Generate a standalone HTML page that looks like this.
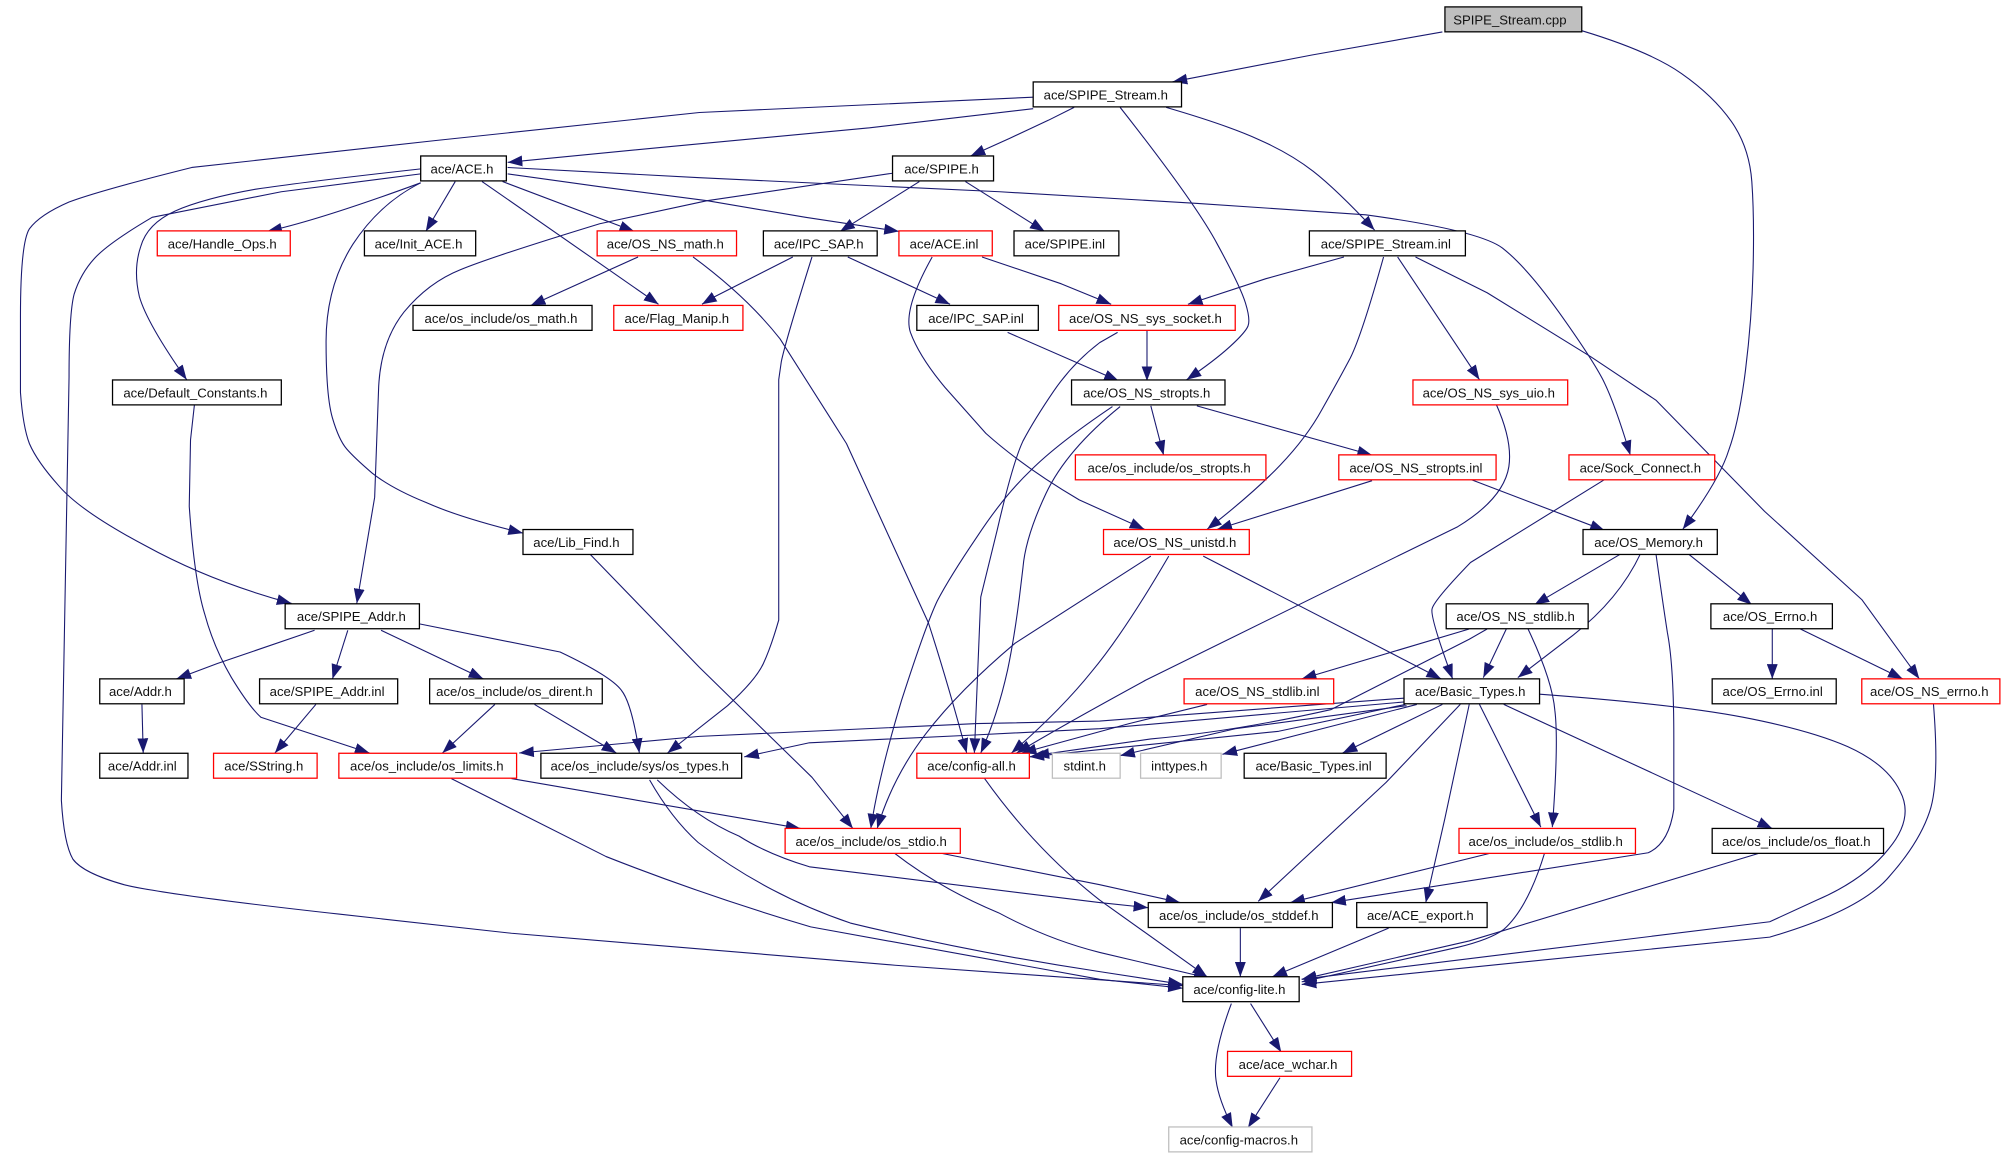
<!DOCTYPE html>
<html><head><meta charset="utf-8"><style>
html,body{margin:0;padding:0;background:#fff}
svg{display:block}
text{font-family:"Liberation Sans",sans-serif;font-size:10.3px;text-anchor:middle;fill:#111;transform:translate(-1.2px,0)}
.e path{fill:none;stroke:#191970;stroke-width:.85;stroke-linejoin:round;marker-end:url(#a)}
.n rect{fill:#fff;stroke:#000;stroke-width:1}
.n rect.r{stroke:#f00}
.n rect.g{stroke:#bfbfbf}
.n rect.c{fill:#bfbfbf}
</style></head><body>
<svg xmlns="http://www.w3.org/2000/svg" width="2005" height="1157" viewBox="0 0 1568 905" preserveAspectRatio="none">
<defs><marker id="a" markerUnits="userSpaceOnUse" markerWidth="11.5" markerHeight="8.5" refX="11.5" refY="4.25" orient="auto"><path d="M0,0L11.5,4.25L0,8.5z" fill="#191970"/></marker></defs>
<g class="e">
<path d="M1128,25L1026,43L917,64"/>
<path d="M1237,24Q1290,40 1315,57.5Q1340,75 1354,95Q1368,115 1370,142Q1372,170 1371,210Q1370,250 1365,290Q1360,330 1352,352Q1345,375 1316,414"/>
<path d="M808,76L547,88L340,110L150,131Q78,149 54,158Q31,168 23,179Q16,190 16,248L16,307Q18,334 23,347Q29,361 46,380Q63,400 114,427Q165,455 228,472"/>
<path d="M808,85L680,100L520,115L397,127"/>
<path d="M840,84L820,94L790,108L759,122"/>
<path d="M876,84Q935,159 952,191Q970,224 974,237Q978,250 976,255Q974,260 962,271Q950,282 928,297"/>
<path d="M912,84Q960,98 984,109Q1009,120 1027,134Q1045,148 1075,180"/>
<path d="M330,132Q240,142 200,148Q160,155 137,165Q115,175 110,193Q104,211 109,232Q115,253 146,297"/>
<path d="M329,136L220,150L119,170Q85,190 74,202Q63,214 58,230Q54,245 54,295L48,626Q50,660 57,672Q65,683 97,692Q130,700 265,715L400,730L700,755L925,771"/>
<path d="M329,143Q250,172 209,181"/>
<path d="M356,142L333,181"/>
<path d="M329,143Q297,159 276,191Q255,224 255,267Q255,310 260,327Q265,344 271,351Q277,358 291,370Q306,382 333,393Q360,405 409,417"/>
<path d="M393,142L496,181"/>
<path d="M377,142L515,238"/>
<path d="M397,136L469,146L553,157L630,170L703,181"/>
<path d="M397,131L547,139L782,150L935,159L1068,168Q1156,180 1175,194Q1194,209 1219,244Q1244,279 1253,296Q1262,313 1275,356"/>
<path d="M698,135.500L553,157L469,175Q384,201 360,211Q335,221 316,244Q297,268 296,306L293,389L279,472"/>
<path d="M719,142L657,181"/>
<path d="M755,142L817,181"/>
<path d="M499,201L415,239"/>
<path d="M542,201Q584,232 610,265L650,328L662,347L726,487Q740,530 756,589"/>
<path d="M1051,201L990,218L929,238"/>
<path d="M1082,201Q1065,262 1056,280Q1047,297 1034,320Q1022,342 1001,364Q980,386 944,414"/>
<path d="M1093,201L1157,297"/>
<path d="M1107,201L1163,229L1244,279L1295,313L1380,400L1456,469L1501,531"/>
<path d="M768,201L830,222L869,238"/>
<path d="M729,201Q706,242 712,260Q719,279 739,303L771,339Q800,365 844,391L895,414"/>
<path d="M620,201L559,232L549,238"/>
<path d="M663,201L743,238"/>
<path d="M635,201Q614,268 611,283L609,297L609,485Q603,506 597,519Q591,532 569,552L522,589"/>
<path d="M788,260L875,298"/>
<path d="M897,258L897,298"/>
<path d="M874,260L860,268Q839,284 824,306Q809,328 800,345Q792,362 780,414L767,467L762,589"/>
<path d="M900,317.500L910,356"/>
<path d="M936,317.500L1073,356"/>
<path d="M876,318Q834,352 818,386Q802,420 800,444L797,469Q793,500 788,524Q780,560 767,589"/>
<path d="M870,318Q827,347 806,368Q785,388 764,420Q743,451 733,470Q724,489 705,548Q687,608 681,648"/>
<path d="M461,433L547,522L635,608L667,648"/>
<path d="M1073,376L952,414"/>
<path d="M1150,375L1255,415"/>
<path d="M941,435L1127,531"/>
<path d="M914,435Q879,495 854,525Q830,555 791,589"/>
<path d="M900,435L794,503Q750,540 724,574Q698,608 686,648"/>
<path d="M1170,316Q1183,345 1180,365Q1176,390 1140,412L1095,434L896,532Q830,568 795,589"/>
<path d="M944,551L883,566L799,589"/>
<path d="M1163,492L1149,500L1041,555Q966,572 900,578L809,591"/>
<path d="M1178,492L1160,530"/>
<path d="M1149,492L1018,531"/>
<path d="M1195,492Q1214,532 1216,556Q1219,581 1214,647"/>
<path d="M1283,433Q1266,469 1230,497L1187,530"/>
<path d="M1295,433Q1300,469 1304,495Q1309,521 1309,577L1309,633Q1305,660 1289,667L1041,706"/>
<path d="M1268,433L1200,473"/>
<path d="M1320,433L1370,473"/>
<path d="M1255,375L1150,440Q1122,469 1120,476Q1118,482 1136,531"/>
<path d="M1386,492L1386,531"/>
<path d="M1408,492L1488,531"/>
<path d="M1099,546L860,564L764,566L547,576L406,589"/>
<path d="M1099,549L860,570L760,575L633,581L582,592"/>
<path d="M1100,552L966,570L876,591"/>
<path d="M1099,551L1000,572L805,592"/>
<path d="M1108,551L956,590"/>
<path d="M1128,551L1050,589"/>
<path d="M1142,551L1084,612L984,705"/>
<path d="M1149,551L1130,640L1115,706"/>
<path d="M1157,551L1205,647"/>
<path d="M1176,551L1386,648"/>
<path d="M1204,543Q1311,551 1363,561Q1415,571 1445,584Q1476,598 1486,619Q1497,640 1477,664Q1458,688 1421,704L1384,721L1018,766"/>
<path d="M1512,550Q1517,612 1509,635Q1501,659 1478,685Q1456,712 1384,733L1018,770"/>
<path d="M246,493L170,519L138,531"/>
<path d="M272,493L260,531"/>
<path d="M298,493L378,531"/>
<path d="M328,488L438,510Q478,529 486,540Q494,550 500,589"/>
<path d="M111,551L112,589"/>
<path d="M247,551L215,589"/>
<path d="M387,551L346,589"/>
<path d="M418,551L482,589"/>
<path d="M152,317L149,344L148,396Q152,454 160,480Q167,506 181,530Q195,553 204,561L289,589"/>
<path d="M400,609L626,648"/>
<path d="M353,609L474,670Q550,700 634,725L860,766L925,773"/>
<path d="M508,610Q525,640 546,659Q600,700 665,722Q760,745 860,760L925,770"/>
<path d="M514,610Q545,640 578,654Q600,668 633,678L860,706L898,710"/>
<path d="M734,667L860,692L923,706"/>
<path d="M699,667Q735,695 781,714Q820,735 860,745L945,765"/>
<path d="M770,609Q810,665 860,704L944,764"/>
<path d="M970,726L970,764"/>
<path d="M1086,726L995,764"/>
<path d="M1167,667L1009,706"/>
<path d="M1208,667Q1195,710 1176,727Q1165,735 1140,741L1018,768"/>
<path d="M1377,667L1149,736L1018,766"/>
<path d="M978,785L1002,823"/>
<path d="M963,785Q948,825 951,845Q953,860 964,882"/>
<path d="M1001,843L976,882"/>
</g>
<g class="n">
<rect class="c" x="1130" y="5.4" width="107" height="19.5"/><text x="1182" y="19">SPIPE_Stream.cpp</text>
<rect x="808" y="64.1" width="116" height="19.5"/><text x="866" y="77.7">ace/SPIPE_Stream.h</text>
<rect x="329" y="122" width="67" height="19.5"/><text x="362.5" y="135.6">ace/ACE.h</text>
<rect x="698" y="122" width="79" height="19.5"/><text x="737.5" y="135.6">ace/SPIPE.h</text>
<rect class="r" x="123" y="180.6" width="104" height="19.5"/><text x="175" y="194.2">ace/Handle_Ops.h</text>
<rect x="285" y="180.6" width="87" height="19.5"/><text x="328.5" y="194.2">ace/Init_ACE.h</text>
<rect class="r" x="467" y="180.6" width="109" height="19.5"/><text x="521.5" y="194.2">ace/OS_NS_math.h</text>
<rect x="597" y="180.6" width="89" height="19.5"/><text x="641.5" y="194.2">ace/IPC_SAP.h</text>
<rect class="r" x="703" y="180.6" width="73" height="19.5"/><text x="739.5" y="194.2">ace/ACE.inl</text>
<rect x="793" y="180.6" width="82" height="19.5"/><text x="834" y="194.2">ace/SPIPE.inl</text>
<rect x="1024" y="180.6" width="122" height="19.5"/><text x="1085" y="194.2">ace/SPIPE_Stream.inl</text>
<rect x="323" y="238.9" width="140" height="19.5"/><text x="393" y="252.5">ace/os_include/os_math.h</text>
<rect class="r" x="480" y="238.9" width="101" height="19.5"/><text x="530.5" y="252.5">ace/Flag_Manip.h</text>
<rect x="717" y="238.9" width="95" height="19.5"/><text x="764.5" y="252.5">ace/IPC_SAP.inl</text>
<rect class="r" x="828" y="238.9" width="138" height="19.5"/><text x="897" y="252.5">ace/OS_NS_sys_socket.h</text>
<rect x="88" y="297.2" width="132" height="19.5"/><text x="154" y="310.8">ace/Default_Constants.h</text>
<rect x="838" y="297.2" width="120" height="19.5"/><text x="898" y="310.8">ace/OS_NS_stropts.h</text>
<rect class="r" x="1105" y="297.2" width="121" height="19.5"/><text x="1165.5" y="310.8">ace/OS_NS_sys_uio.h</text>
<rect class="r" x="841" y="355.8" width="149" height="19.5"/><text x="915.5" y="369.4">ace/os_include/os_stropts.h</text>
<rect class="r" x="1047" y="355.8" width="123" height="19.5"/><text x="1108.5" y="369.4">ace/OS_NS_stropts.inl</text>
<rect class="r" x="1227" y="355.8" width="114" height="19.5"/><text x="1284" y="369.4">ace/Sock_Connect.h</text>
<rect x="409" y="414.2" width="86" height="19.5"/><text x="452" y="427.8">ace/Lib_Find.h</text>
<rect class="r" x="863" y="414.2" width="114" height="19.5"/><text x="920" y="427.8">ace/OS_NS_unistd.h</text>
<rect x="1238" y="414.2" width="105" height="19.5"/><text x="1290.5" y="427.8">ace/OS_Memory.h</text>
<rect x="223" y="472.3" width="105" height="19.5"/><text x="276" y="485.9">ace/SPIPE_Addr.h</text>
<rect x="1131" y="472.3" width="111" height="19.5"/><text x="1186.5" y="485.9">ace/OS_NS_stdlib.h</text>
<rect x="1338" y="472.3" width="95" height="19.5"/><text x="1385.5" y="485.9">ace/OS_Errno.h</text>
<rect x="78" y="531" width="66" height="19.5"/><text x="111" y="544.6">ace/Addr.h</text>
<rect x="203" y="531" width="108" height="19.5"/><text x="257" y="544.6">ace/SPIPE_Addr.inl</text>
<rect x="336" y="531" width="135" height="19.5"/><text x="403.5" y="544.6">ace/os_include/os_dirent.h</text>
<rect class="r" x="926" y="531" width="117" height="19.5"/><text x="984.5" y="544.6">ace/OS_NS_stdlib.inl</text>
<rect x="1098" y="531" width="106" height="19.5"/><text x="1151" y="544.6">ace/Basic_Types.h</text>
<rect x="1339" y="531" width="97" height="19.5"/><text x="1387.5" y="544.6">ace/OS_Errno.inl</text>
<rect class="r" x="1456" y="531" width="108" height="19.5"/><text x="1510" y="544.6">ace/OS_NS_errno.h</text>
<rect x="78" y="589.2" width="69" height="19.5"/><text x="112.5" y="602.8">ace/Addr.inl</text>
<rect class="r" x="167" y="589.2" width="81" height="19.5"/><text x="207.5" y="602.8">ace/SString.h</text>
<rect class="r" x="265" y="589.2" width="139" height="19.5"/><text x="335" y="602.8">ace/os_include/os_limits.h</text>
<rect x="423" y="589.2" width="157" height="19.5"/><text x="501.5" y="602.8">ace/os_include/sys/os_types.h</text>
<rect class="r" x="717" y="589.2" width="88" height="19.5"/><text x="761" y="602.8">ace/config-all.h</text>
<rect class="g" x="823" y="589.2" width="53" height="19.5"/><text x="849.5" y="602.8">stdint.h</text>
<rect class="g" x="892" y="589.2" width="63" height="19.5"/><text x="923.5" y="602.8">inttypes.h</text>
<rect x="973" y="589.2" width="111" height="19.5"/><text x="1028.5" y="602.8">ace/Basic_Types.inl</text>
<rect class="r" x="614" y="648" width="137" height="19.5"/><text x="682.5" y="661.6">ace/os_include/os_stdio.h</text>
<rect class="r" x="1141" y="648" width="138" height="19.5"/><text x="1210" y="661.6">ace/os_include/os_stdlib.h</text>
<rect x="1339" y="648" width="134" height="19.5"/><text x="1406" y="661.6">ace/os_include/os_float.h</text>
<rect x="898" y="706" width="144" height="19.5"/><text x="970" y="719.6">ace/os_include/os_stddef.h</text>
<rect x="1061" y="706" width="102" height="19.5"/><text x="1112" y="719.6">ace/ACE_export.h</text>
<rect x="925" y="764" width="91" height="19.5"/><text x="970.5" y="777.6">ace/config-lite.h</text>
<rect class="r" x="960" y="822.4" width="97" height="19.5"/><text x="1008.5" y="836">ace/ace_wchar.h</text>
<rect class="g" x="914" y="881.5" width="112" height="19.5"/><text x="970" y="895.1">ace/config-macros.h</text>
</g>
</svg>
</body></html>
